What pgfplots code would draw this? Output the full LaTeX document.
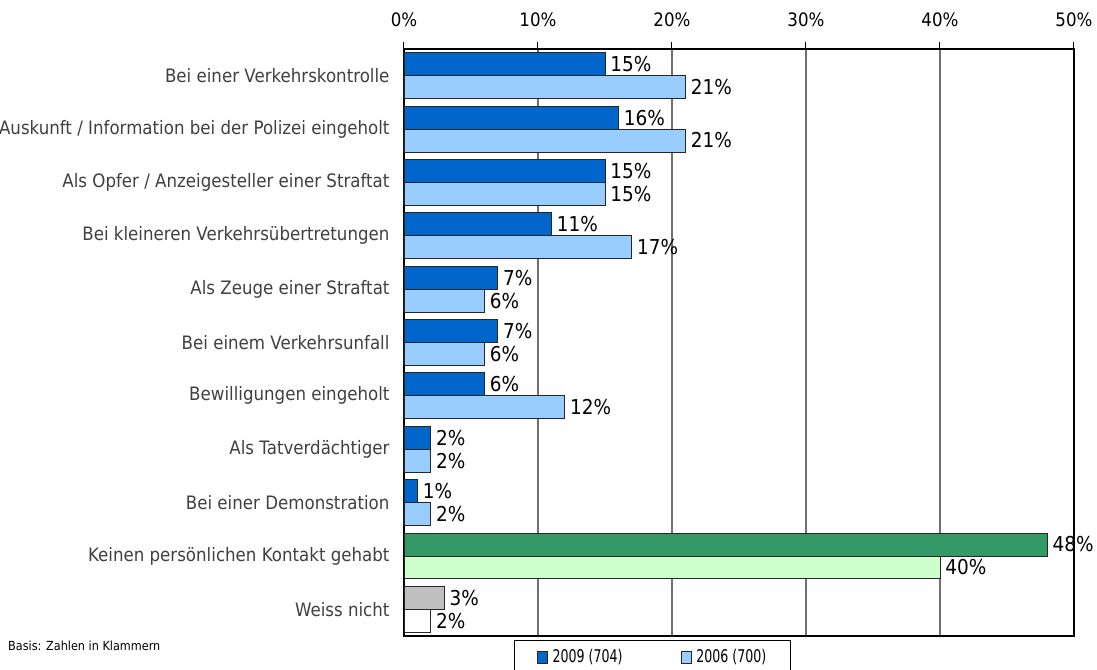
\documentclass[border=0pt]{standalone}
\usepackage{fontspec}
\setmainfont{DejaVu Sans}[FakeStretch=0.9]
\newfontfamily\legfont{DejaVu Sans}[FakeStretch=0.72]
\usepackage{pgfplots}
\pgfplotsset{compat=1.18}

\definecolor{blue09}{HTML}{0066CC}
\definecolor{blue06}{HTML}{99CCFF}
\definecolor{green09}{HTML}{339966}
\definecolor{green06}{HTML}{CCFFCC}
\definecolor{grey09}{HTML}{C0C0C0}
\definecolor{catgrey}{HTML}{404040}
\definecolor{gridgrey}{HTML}{707070}

\begin{document}
\begin{tikzpicture}
  \begin{axis}[
      at={(0,0)}, anchor=north west,
      scale only axis,
      width=670bp, height=587bp,
      xbar, bar width=0.43,
      xmin=0, xmax=50,
      ymin=-0.5, ymax=10.5,
      y dir=reverse,
      axis line style={black, line width=1.2bp},
      xtick={0,10,...,50},
      xtick pos=upper,
      xticklabel pos=upper,
      xticklabel={\pgfmathprintnumber{\tick}\%},
      xticklabel style={font=\fontsize{18.5bp}{21bp}\selectfont, yshift=12bp},
      /pgf/number format/assume math mode=true,
      xmajorgrids,
      major grid style={gridgrey, line width=1.3bp},
      major tick length=7bp,
      tick align=outside,
      tick style={black, line width=1bp},
      ytick={0,...,10},
      ytick pos=left,
      y tick style={draw=none},
      minor ytick={-0.5,0.5,...,10.5},
      minor tick length=7bp,
      minor y tick style={black, line width=1bp},
      yticklabels={
        Bei einer Verkehrskontrolle,
        Auskunft / Information bei der Polizei eingeholt,
        Als Opfer / Anzeigesteller einer Straftat,
        Bei kleineren Verkehrsübertretungen,
        Als Zeuge einer Straftat,
        Bei einem Verkehrsunfall,
        Bewilligungen eingeholt,
        Als Tatverdächtiger,
        Bei einer Demonstration,
        Keinen persönlichen Kontakt gehabt,
        Weiss nicht},
      yticklabel style={font=\fontsize{18.5bp}{21bp}\selectfont, text=catgrey, xshift=-4bp},
      every axis plot/.append style={draw=black!85, line width=0.9bp},
      point meta=x,
      nodes near coords={\pgfmathprintnumber{\pgfplotspointmeta}\%},
      every node near coord/.append style={font=\fontsize{20.5bp}{23bp}\selectfont, black, anchor=west, inner sep=1bp, xshift=4bp},
      legend style={at={(axis description cs:0.371,-0.007)}, anchor=north,
        draw=black, line width=0.8bp, font=\legfont\fontsize{17.5bp}{20bp}\selectfont,
        inner xsep=22bp, inner ysep=7bp,
        /tikz/every even column/.append style={column sep=56bp}},
      legend columns=2,
      legend image code/.code={\draw[#1, line width=0.7bp] (0bp,-6bp) rectangle (10bp,6bp);
        \path (13bp,0bp);},
    ]
    % 2009
    \addplot[fill=blue09, bar shift=-0.215] coordinates {
      (15,0) (16,1) (15,2) (11,3) (7,4) (7,5) (6,6) (2,7) (1,8)
    };
    \addlegendentry{2009 (704)}
    % 2006
    \addplot[fill=blue06, bar shift=0.215] coordinates {
      (21,0) (21,1) (15,2) (17,3) (6,4) (6,5) (12,6) (2,7) (2,8)
    };
    \addlegendentry{2006 (700)}
    % Kein Kontakt
    \addplot[fill=green09, bar shift=-0.215, forget plot] coordinates {(48,9)};
    \addplot[fill=green06, bar shift=0.215, forget plot] coordinates {(40,9)};
    % Weiss nicht
    \addplot[fill=grey09, bar shift=-0.215, forget plot] coordinates {(3,10)};
    \addplot[fill=white, bar shift=0.215, forget plot] coordinates {(2,10)};
  \end{axis}
  \node[anchor=west, inner sep=0pt, font=\fontsize{12.5bp}{15bp}\selectfont]
    at (-396bp,-597bp) {Basis: Zahlen in Klammern};
  \pgfresetboundingbox
  \useasboundingbox (-404bp,-621bp) rectangle (693bp,49bp);
\end{tikzpicture}
\end{document}
